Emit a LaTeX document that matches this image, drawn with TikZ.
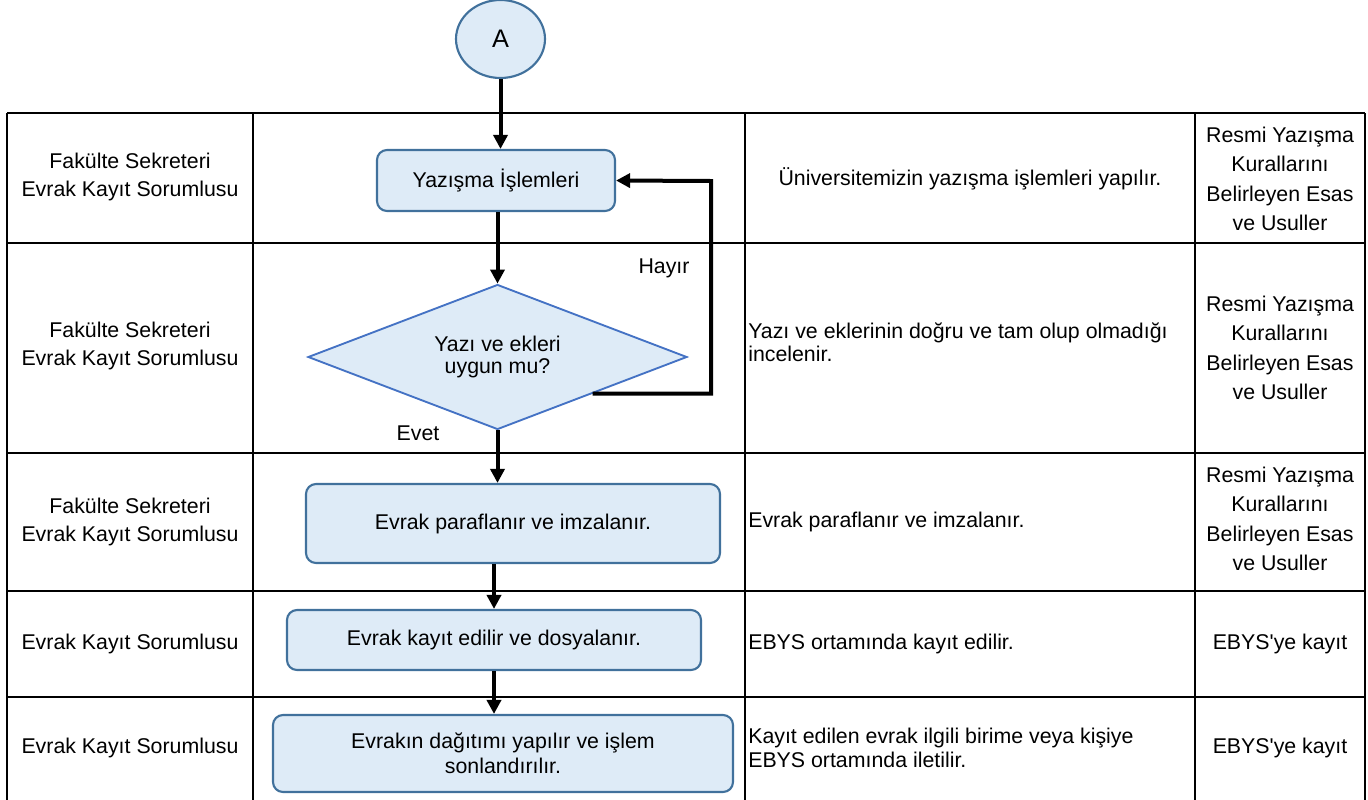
\documentclass[tikz,border=0pt]{standalone}
\usepackage{fontspec}
\setmainfont{Liberation Sans}
\usetikzlibrary{shapes.geometric,arrows.meta}
\definecolor{kutudolgu}{RGB}{222,235,247}
\definecolor{kutukenar}{RGB}{65,113,156}
\definecolor{karokenar}{RGB}{68,114,196}
\tikzset{
  tablo/.style={line width=1.4pt, black},
  kutu/.style={
    draw=kutukenar, fill=kutudolgu, line width=1.6pt,
    rounded corners=7.5pt, align=center, inner sep=0pt,
    #1
  },
  karo/.style={
    diamond, aspect=2.6, draw=karokenar, fill=kutudolgu, line width=1.4pt,
    align=center, inner sep=0pt,
    font=\fontsize{16}{16.5}\selectfont
  },
  baglayici/.style={
    ellipse, draw=kutukenar, fill=kutudolgu, line width=1.6pt,
    minimum width=66.75pt, minimum height=58.5pt,
    font=\fontsize{19}{23}\selectfont
  },
  hucre/.style={align=center, inner sep=0pt, #1},
  ok/.style={line width=3pt, -{Triangle[length=10.5pt,width=10.5pt]}}
}

\begin{document}
\begin{tikzpicture}[x=0.75pt,y=0.75pt,yscale=-1,xscale=1,font=\fontsize{16}{21}\selectfont]
\useasboundingbox (0,0) rectangle (1368,800);

%Table lines
\foreach \y in {113,243,453,591,697} \draw[tablo] (7,\y) -- (1365,\y);
\foreach \x in {7,253,745,1195,1365} \draw[tablo] (\x,113) -- (\x,806);

%Shape: Connector
\node[baglayici] (A) at (500.5,39) {A};
%Shape: Process boxes
\node[kutu={minimum width=178.5pt, minimum height=45.75pt}] (yazisma) at (496,180.5) {Yazışma İşlemleri};
\node[karo, minimum width=284.25pt, minimum height=108.75pt] (uygun) at (497.5,357) {Yazı ve ekleri\\uygun mu?};
\node[kutu={minimum width=310.5pt, minimum height=59.25pt}] (paraf) at (513,523.5) {Evrak paraflanır ve imzalanır.};
\node[kutu={minimum width=310.5pt, minimum height=45pt}] (kayit) at (494,640) {Evrak kayıt edilir ve dosyalanır.};
\node[kutu={minimum width=345pt, minimum height=57.75pt, font=\fontsize{16}{18.5}\selectfont}] (dagitim) at (503,753.5) {Evrakın dağıtımı yapılır ve işlem\\sonlandırılır.};

%Arrows
\coordinate (donus) at (711,181);
\draw[ok] (A) -- (A |- yazisma.north);
\draw[ok] (yazisma.south -| uygun.north) -- (uygun.north);
\draw[ok] (uygun.south east) -| (donus) -- (yazisma.east);
\draw[ok] (uygun.south) -- (uygun.south |- paraf.north);
\draw[ok] (paraf.south -| kayit.north) -- (kayit.north);
\draw[ok] (kayit.south) -- (kayit.south |- dagitim.north);

% Text Node
\node (hayir) at (664,268) {Hayır};
% Text Node
\node (evet) at (418,433) {Evet};

% Column 1
\node[hucre] (sor1) at (130,177) {Fakülte Sekreteri\\Evrak Kayıt Sorumlusu};
\node[hucre] (sor2) at (130,346) {Fakülte Sekreteri\\Evrak Kayıt Sorumlusu};
\node[hucre] (sor3) at (130,522) {Fakülte Sekreteri\\Evrak Kayıt Sorumlusu};
\node[hucre] (sor4) at (130,644) {Evrak Kayıt Sorumlusu};
\node[hucre] (sor5) at (130,748) {Evrak Kayıt Sorumlusu};

% Column 3
\node[hucre] (acik1) at (970,179) {Üniversitemizin yazışma işlemleri yapılır.};
\node[hucre={anchor=west, align=left, font=\fontsize{16}{17.5}\selectfont}] (acik2) at (748,342) {Yazı ve eklerinin doğru ve tam olup olmadığı\\incelenir.};
\node[hucre={anchor=west}] (acik3) at (748,522) {Evrak paraflanır ve imzalanır.};
\node[hucre={anchor=west}] (acik4) at (748,644) {EBYS ortamında kayıt edilir.};
\node[hucre={anchor=west, align=left, font=\fontsize{16}{18.5}\selectfont}] (acik5) at (748,748) {Kayıt edilen evrak ilgili birime veya kişiye\\EBYS ortamında iletilir.};

% Column 4
\node[hucre={font=\fontsize{16}{22}\selectfont}] (kay1) at (1280,179) {Resmi Yazışma\\Kurallarını\\Belirleyen Esas\\ve Usuller};
\node[hucre={font=\fontsize{16}{22}\selectfont}] (kay2) at (1280,348) {Resmi Yazışma\\Kurallarını\\Belirleyen Esas\\ve Usuller};
\node[hucre={font=\fontsize{16}{22}\selectfont}] (kay3) at (1280,519) {Resmi Yazışma\\Kurallarını\\Belirleyen Esas\\ve Usuller};
\node[hucre] (kay4) at (1280,644) {EBYS\textquotesingle ye kayıt};
\node[hucre] (kay5) at (1280,748) {EBYS\textquotesingle ye kayıt};

\end{tikzpicture}
\end{document}
